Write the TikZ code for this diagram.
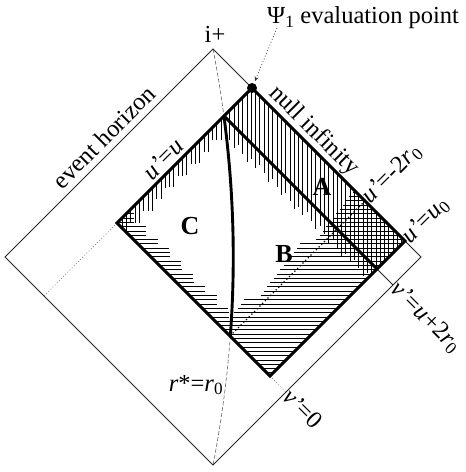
\documentclass[tikz,border=0pt]{standalone}
\usepackage{fontspec}
\setmainfont{Liberation Serif}
\usetikzlibrary{arrows.meta}
\begin{document}
\begin{tikzpicture}[x=1pt,y=-1pt,
  thinln/.style={line width=0.75pt, black!85},
  thickln/.style={line width=2.9pt, line join=miter},
  hatchln/.style={line width=1pt},
  dotln/.style={line width=1.2pt, dash pattern=on 1.2pt off 2.6pt},
  faintdot/.style={line width=0.6pt, black!55, dash pattern=on 1pt off 2pt},
  curvedash/.style={line width=0.6pt, black!60, dash pattern=on 4pt off 2pt},
  lab/.style={font=\fontsize{24.5}{28}\selectfont, inner sep=1pt},
  reg/.style={font=\fontsize{26}{30}\selectfont\bfseries, inner sep=0pt}]
\useasboundingbox (0,0) rectangle (466,472);
\fill[white] (0,0) rectangle (466,472);
% outer diamond
\coordinate (top) at (213,49);
\coordinate (right) at (421,257);
\coordinate (bot) at (213,465);
\coordinate (left) at (5,257);
% inner rectangle
\coordinate (T) at (252,88);
\coordinate (R) at (405,241);
\coordinate (B) at (270,376);
\coordinate (L) at (117,223);
\coordinate (P1) at (224,116);
\coordinate (P2) at (377,269);
\coordinate (D1) at (230,336);
\coordinate (D2) at (365,201);
\coordinate (E1) at (393,285);
\coordinate (E2) at (286,392);
\coordinate (E3) at (44,296);
\coordinate (psiarr) at (277,28);
% curve r*=r0 (dashed outside)
\draw[curvedash] (top) .. controls (240,188) and (240,326) .. (bot);
% outer diamond
\draw[thinln] (top) -- (right) -- (bot) -- (left) -- cycle;
% extensions
\draw[thinln] (P2) -- (E1);
\draw[faintdot] (B) -- (E2);
\draw[faintdot] (L) -- (E3);
% hatching
\begin{scope}
  \clip (T) -- (R) -- (B) -- (L) -- cycle;
  \foreach \i in {0,...,67} {
    \pgfmathsetmacro\xx{118+4.3*\i}
    \pgfmathsetmacro\jit{mod(\i*37,11)-5}
    \pgfmathsetmacro\yb{max(358-\xx,\xx-90)+\jit}
    \draw[hatchln] (\xx,80) -- (\xx,\yb);
  }
  \foreach \i in {0,...,44} {
    \pgfmathsetmacro\yy{188+4.3*\i}
    \pgfmathsetmacro\jita{mod(\i*29,11)-5}
    \pgfmathsetmacro\jitb{mod(\i*53,13)-6}
    \draw[hatchln] (100,\yy) -- ({\yy-84+\jita},\yy);
    \draw[hatchln] ({550-\yy+\jitb},\yy) -- (420,\yy);
  }
  \draw[thickln] (top) .. controls (240,188) and (240,326) .. (bot);
\end{scope}
% dotted u'=-2r0
\draw[dotln] (D1) -- (D2);
% thick lines
\draw[thickln] (T) -- (R) -- (B) -- (L) -- cycle;
\draw[thickln] (P1) -- (P2);
% evaluation point
\node[circle, fill=black, inner sep=0pt, minimum size=10pt] (dot) at (T) {};
% labels
\node[lab] (iplus) at (215,34) {i+};
\node[lab, anchor=west] (psi) at (266,18) {Ψ\textsubscript{1} evaluation point};
\draw[faintdot, black!80, -{Stealth[length=5pt,width=4pt]}, shorten >=2pt] (psiarr) -- (dot);
\node[lab, rotate=-45] (nullinf) at (314,131) {null infinity};
\node[lab, rotate=45] (evh) at (104,137) {event horizon};
\node[lab, rotate=45] (uu) at (163,159) {\textit{u’}=\textit{u}};
\node[lab, rotate=45, anchor=west] (um2) at (D2) {\textit{u’}=-2\textit{r}\textsubscript{0}};
\node[lab, rotate=45, anchor=west] (uu0) at (R) {\textit{u’}=\textit{u}\textsubscript{0}};
\node[lab, rotate=-45, anchor=west] (vu2) at (E1) {\textit{v’}=\textit{u}+2\textit{r}\textsubscript{0}};
\node[lab, rotate=-45, anchor=west] (v0) at (E2) {\textit{v’}=0};
\node[lab] (rstar) at (196,385) {\textit{r}*=\textit{r}\textsubscript{0}};
\node[reg] (A) at (322,187) {A};
\node[reg] (Bl) at (284,254) {B};
\node[reg] (C) at (190,226) {C};
\end{tikzpicture}
\end{document}
